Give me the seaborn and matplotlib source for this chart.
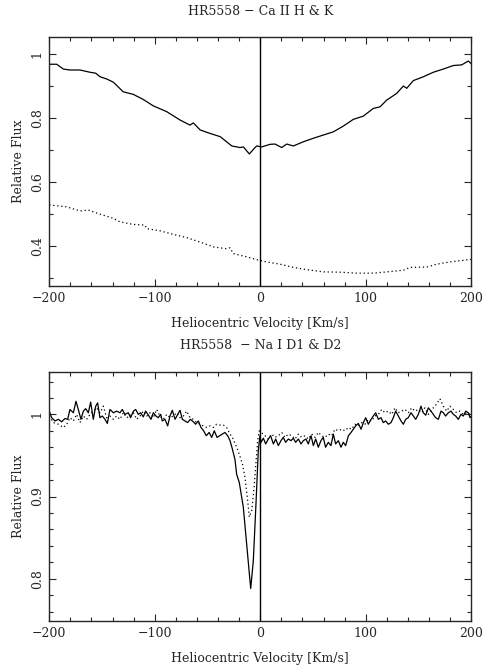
import numpy as np
import pandas as pd
import matplotlib
matplotlib.use('Agg')
import matplotlib.pyplot as plt
from matplotlib.ticker import MultipleLocator
import seaborn as sns

#------------------------------------------------
# Ca II H & K, solid spectrum
ca_v=[-200,-199.3,-193,-186.7,-180.4,-170.9,-161.4,-156,-151.9,-145.6,-139.3,-129.9,-120.4,-110.9,
      -101.4,-88.7,-76.1,-66.6,-63.5,-57,-47.6,-38,-27,-19.2,-16,-10.4,-5,-3.4,1.3,9.2,14,20.3,25,
      31.3,40.8,50.3,59.7,69.2,78.7,88.2,97.6,107.1,113.5,119.8,129.3,135.6,138.8,145.1,154.6,164,
      173.5,183,190.9,197.2,199.5,200]
ca_f=[0.965,0.967,0.967,0.952,0.949,0.949,0.942,0.939,0.928,0.921,0.911,0.881,0.873,0.857,
      0.837,0.819,0.793,0.777,0.784,0.762,0.751,0.741,0.712,0.707,0.709,0.687,0.707,0.712,0.709,0.717,0.718,0.707,0.718,
      0.712,0.725,0.736,0.746,0.756,0.774,0.795,0.805,0.829,0.834,0.855,0.876,0.899,0.892,0.916,0.928,0.942,
      0.952,0.963,0.965,0.977,0.970,0.968]

# Ca II H & K, dotted spectrum
cad_v=[-200,-197.7,-183.5,-170.9,-163,-152,-139.3,-133,-120.4,-109.3,-107.7,-95,-82.5,-69.8,-57.2,
       -44.5,-31.8,-28.7,-25.6,-12.9,-3.4,6.1,18.7,31.3,44,59.7,75.6,91.4,107.1,123,135.6,142,157.7,
       167.2,179.8,197.2,200]
cad_f=[0.528,0.527,0.522,0.509,0.512,0.499,0.486,0.475,0.467,0.465,0.454,0.447,0.436,0.426,0.412,
       0.397,0.391,0.394,0.376,0.366,0.357,0.350,0.343,0.333,0.326,0.319,0.318,0.315,0.315,0.320,0.324,0.333,0.334,
       0.343,0.350,0.357,0.358]

# Na I D1 & D2, solid spectrum
na_v=[-200,-197.8,-194.6,-191.4,-188.3,-185.1,-182.6,-180.4,-177.2,-174.7,-172.5,-170.0,-167.7,-165.5,
      -163.0,-160.8,-158.3,-156.0,-154.2,-152.0,-149.7,-147.2,-145.0,-142.5,-139.3,-136.2,-133.0,-130.8,
      -128.3,-125.1,-122.9,-120.3,-118.1,-115.6,-113.4,-110.9,-108.7,-106.0,-103.6,-101.4,-98.9,-96.7,
      -94.4,-92.9,-90.3,-87.8,-85.6,-83.4,-80.8,-78.3,-76.1,-73.9,-71.4,-68.9,-66.3,-63.5,-61.3,-58.7,
      -56.2,-53.7,-51.2,-48.5,-46.1,-43.6,-41.0,-38.5,-36.0,-33.5,-30.9,-28.7,-26.5,-24.0,-22.4,-19.9,
      -16.1,-12.9,-9.1,-6.6,-4.1,-1.9,-0.3,
      0.7,2.9,5.1,7.6,9.8,12.4,14.6,17.1,19.6,21.8,24.0,26.6,29.1,31.3,33.5,36.1,38.6,40.8,43.3,45.5,
      48.1,50.3,52.5,55.0,57.5,59.7,61.9,64.5,67.0,69.2,71.4,74.0,76.5,78.7,80.9,83.5,86.0,88.2,90.4,
      92.9,95.5,97.7,99.9,102.4,105.0,107.1,109.4,111.9,114.4,116.6,118.8,121.4,123.9,126.1,128.3,
      130.8,133.4,135.6,137.8,140.3,142.9,145.1,147.3,149.8,152.3,154.5,156.8,159.3,161.8,164.0,166.2,
      168.8,171.3,173.5,175.7,178.2,180.8,183.0,185.2,187.7,190.2,192.5,194.7,197.2,198.8,200]
na_f=[1.004,0.996,0.992,0.994,0.991,0.995,0.994,1.006,1.002,1.016,1.006,0.994,1.004,1.007,
      1.002,1.015,0.994,1.010,1.014,0.996,0.998,0.994,0.989,1.006,1.002,1.004,1.002,1.006,
      1.000,1.002,0.996,1.004,1.006,1.000,1.002,0.997,1.004,0.999,0.994,1.002,0.998,0.996,
      1.000,0.992,0.994,0.986,0.998,1.005,0.994,1.000,1.005,0.994,0.992,0.990,0.994,0.991,0.988,0.992,
      0.984,0.980,0.974,0.978,0.972,0.980,0.972,0.974,0.976,0.978,0.974,0.968,0.958,0.945,0.927,0.917,
      0.887,0.842,0.788,0.822,0.891,0.956,0.974,
      0.966,0.971,0.964,0.970,0.974,0.964,0.970,0.962,0.968,0.972,0.966,0.970,0.968,0.971,0.966,0.970,0.964,0.968,0.970,0.964,
      0.974,0.962,0.970,0.960,0.968,0.972,0.960,0.966,0.962,0.976,0.964,0.968,0.960,0.966,0.962,0.974,0.978,0.982,0.986,
      0.989,0.982,0.990,0.996,0.988,0.994,0.998,1.002,0.994,0.996,0.990,0.992,0.988,0.990,0.996,1.004,
      0.998,0.992,0.988,0.994,0.996,1.002,0.998,0.994,1.000,1.010,1.002,0.999,1.008,1.004,1.000,0.996,
      0.994,1.004,1.002,0.998,1.002,1.004,1.000,0.998,0.994,1.000,0.998,1.004,1.002,0.996,0.998]

# Na I D1 & D2, dotted spectrum
nad_v=[-200.0,-196.2,-191.4,-186.7,-183.5,-180.4,-177.2,-174.1,-170.9,-167.7,-164.6,-161.4,-158.3,
       -155.1,-152.0,-148.8,-145.6,-142.5,-139.3,-136.2,-133.0,-129.8,-126.7,-123.5,-120.3,-117.2,
       -114.0,-110.9,-107.7,-104.5,-101.4,-98.2,-95.1,-91.9,-88.7,-85.6,-82.4,-79.3,-76.1,-72.9,-69.8,
       -66.6,-63.5,-60.3,-57.2,-54.0,-50.8,-47.7,-44.5,-41.4,-38.2,-35.0,-31.9,-28.7,-26.5,-23.0,-19.5,
       -17.0,-14.5,-12.3,-10.4,-8.1,-5.9,-4.0,-2.5,-1.0,
       4.5,7.6,10.8,13.9,17.1,20.3,23.4,26.6,29.7,32.9,36.1,39.2,42.4,45.5,48.7,51.8,55.0,58.2,61.3,
       64.5,67.6,70.8,74.0,77.1,80.3,83.4,86.6,89.8,92.9,96.1,99.2,102.4,105.6,108.7,111.9,115.0,118.2,
       121.4,124.5,127.7,130.8,134.0,137.2,140.3,143.5,146.6,149.8,153.0,156.1,159.3,162.4,165.6,168.8,
       170.3,173.5,176.7,179.8,183.0,186.1,189.3,192.5,195.6,198.8,200]
nad_f=[0.998,0.990,0.988,0.984,0.988,0.996,0.992,1.000,0.990,0.998,0.994,1.000,1.004,
       1.008,1.002,1.010,0.996,0.998,0.994,0.998,0.994,1.002,0.996,0.998,1.002,0.994,
       0.998,1.004,0.998,1.002,0.996,1.006,0.998,0.994,1.000,0.996,0.998,1.002,0.996,0.998,1.004,
       0.996,0.994,0.990,0.988,0.986,0.984,0.986,0.984,0.988,0.987,0.987,0.984,0.976,0.972,0.962,0.950,
       0.940,0.923,0.899,0.875,0.883,0.911,0.943,0.968,0.980,
       0.974,0.970,0.976,0.972,0.974,0.978,0.972,0.976,0.974,0.970,0.976,0.972,0.974,0.970,0.976,0.972,0.978,0.974,0.972,
       0.976,0.974,0.982,0.980,0.982,0.980,0.984,0.982,0.988,0.986,0.990,0.988,0.994,0.992,0.998,1.000,1.006,1.002,
       1.004,1.000,1.008,1.002,1.004,1.006,1.002,1.008,1.004,1.006,1.002,1.008,1.000,1.006,1.010,1.016,
       1.019,1.010,1.004,1.010,1.006,1.002,1.004,1.000,1.002,1.000,1.000]

titles=['HR5558 \u2212 Ca II H & K', 'HR5558  \u2212 Na I D1 & D2']
xlab='Heliocentric Velocity [Km/s]'
ylab='Relative Flux'

##########################################################
sns.set_style('ticks')
plt.rcParams['font.family']=['DejaVu Serif']
plt.rcParams['axes.linewidth']=1.0

fig=plt.figure(figsize=(4.92, 6.68), dpi=100)
ax1=fig.add_axes([0.1002, 0.5719, 0.8577, 0.3727])
ax2=fig.add_axes([0.1002, 0.0704, 0.8577, 0.3732])

def plt_panel(ax, v, f, vd, fd, title, ylim, ymaj, ymin, yfmt):
    sns.lineplot(x=v, y=f, ax=ax, color='black', lw=0.9, sort=False)
    sns.lineplot(x=vd, y=fd, ax=ax, color='black', lw=0.9, linestyle=(0, (1, 2.2)), sort=False)
    ax.axvline(0, color='black', lw=1.0)

    #adjust
    ax.set_xlim(-200, 200)
    ax.set_ylim(*ylim)
    ax.xaxis.set_major_locator(MultipleLocator(100))
    ax.xaxis.set_minor_locator(MultipleLocator(20))
    ax.yaxis.set_major_locator(MultipleLocator(ymaj))
    ax.yaxis.set_minor_locator(MultipleLocator(ymin))
    ax.yaxis.set_major_formatter(yfmt)
    ax.tick_params(which='both', direction='in', top=True, right=True, width=0.8, labelsize=9)
    ax.tick_params(which='major', length=5, pad=4)
    ax.tick_params(which='minor', length=3)
    for lab in ax.get_yticklabels():
        lab.set_rotation(90)
        lab.set_va('center')
    ax.set_xlabel(xlab, fontsize=9, labelpad=9)
    ax.set_ylabel(ylab, fontsize=9, labelpad=4)
    ax.set_title(title, fontsize=9, pad=16)
    return

def fmt_top(x, pos):
    return {1.0: '1'}.get(round(x, 2), f'{x:.1f}')

def fmt_bot(x, pos):
    return {1.0: '1'}.get(round(x, 2), f'{x:.1f}')

plt_panel(ax1, ca_v, ca_f, cad_v, cad_f, titles[0], (0.275, 1.052), 0.2, 0.1, fmt_top)
plt_panel(ax2, na_v, na_f, nad_v, nad_f, titles[1], (0.7485, 1.052), 0.1, 0.02, fmt_bot)

fig.savefig('out.png', dpi=100)
plt.close()
